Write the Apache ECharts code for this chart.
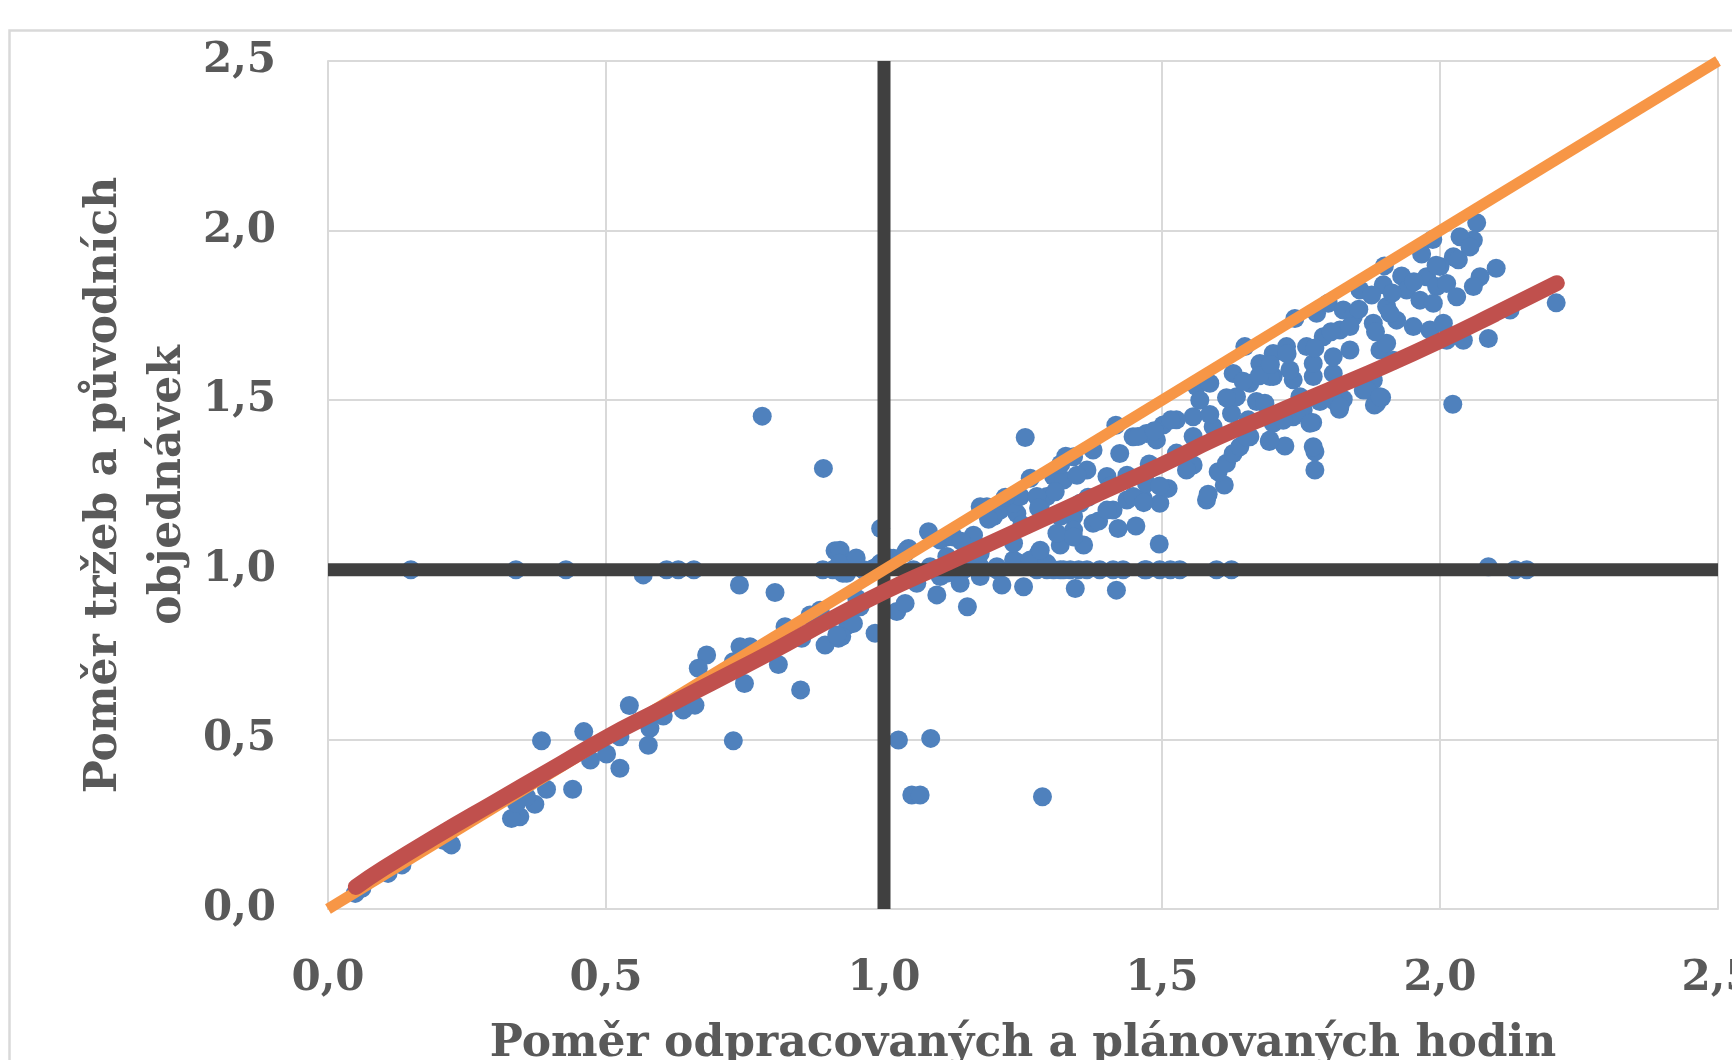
<!DOCTYPE html>
<html>
<head>
<meta charset="utf-8">
<script src="https://cdn.jsdelivr.net/npm/echarts@6/dist/echarts.min.js"></script>
<style>
html, body { margin: 0; padding: 0; background: #fff; }
#chart { width: 1732px; height: 1060px; }
</style>
</head>
<body>
<div id="chart"></div>
<script>
// axis ticks
var tickValues = [0, 0.5, 1, 1.5, 2, 2.5];
var tickLabels = ['0,0', '0,5', '1,0', '1,5', '2,0', '2,5'];

// reference lines
var hLine = [[0, 1], [2.5, 1]];
var vLine = [[1, 0], [1, 2.5]];
var diagLine = [[0, 0], [2.5, 2.5]];

// trend line
var trendX = [0.05, 0.1, 0.2, 0.3, 0.4, 0.5, 0.6, 0.7, 0.8, 0.9, 1.0, 1.1, 1.2, 1.3, 1.4, 1.5, 1.6, 1.7, 1.8, 1.9, 2.0, 2.1, 2.21];
var trendY = [0.065, 0.12, 0.22, 0.315, 0.41, 0.505, 0.59, 0.675, 0.76, 0.85, 0.935, 1.01, 1.085, 1.16, 1.235, 1.31, 1.39, 1.46, 1.53, 1.60, 1.675, 1.755, 1.845];

// scatter points
var points = [
    [0.149,1.0],[0.338,1.0],[0.428,1.0],[0.567,0.985],[0.609,1.0],[0.630,1.0],[0.658,1.0],
    [0.740,0.955],[0.804,0.933],[0.890,1.0],[0.908,1.0],[0.926,0.99],
    [0.822,0.832],[0.867,0.867],[0.885,0.881],[0.852,0.798],[0.894,0.778],[0.918,0.798],[0.935,0.837],
    [0.741,0.773],[0.759,0.773],[0.729,0.729],[0.681,0.749],[0.666,0.710],[0.801,0.783],[0.810,0.721],
    [0.749,0.665],[0.850,0.646],[0.687,0.670],[0.542,0.600],[0.639,0.587],[0.660,0.601],[0.603,0.569],
    [0.579,0.533],[0.576,0.483],[0.525,0.508],[0.729,0.496],[0.384,0.496],[0.460,0.523],[0.472,0.439],
    [0.501,0.457],[0.525,0.415],[0.440,0.353],[0.393,0.353],[0.372,0.309],[0.345,0.272],[0.330,0.267],
    [0.357,0.331],[0.339,0.311],[0.219,0.194],[0.207,0.203],[0.222,0.189],[0.133,0.130],[0.108,0.105],
    [0.049,0.046],[0.061,0.061],[0.781,1.453],[0.891,1.299],[0.912,1.056],
    [0.994,1.122],[1.026,0.498],[1.084,0.503],[1.050,0.336],[1.065,0.336],[1.285,0.331],[0.984,0.813],
    [1.023,0.877],[1.038,0.901],[0.945,0.842],[0.924,0.803],[1.095,0.926],[1.150,0.891],[1.212,0.955],
    [1.251,0.950],[1.344,0.945],[1.418,0.940],[1.495,1.076],[1.421,1.122],[1.453,1.129],[1.359,1.073],
    [1.317,1.073],[1.278,1.048],
    [1.305,1.0],[1.335,1.0],[1.365,1.0],[1.388,1.0],[1.412,1.0],[1.430,1.0],[1.469,1.0],[1.496,1.0],
    [1.532,1.0],[1.598,1.0],[1.625,1.0],[1.293,1.0],[1.317,1.0],[1.350,1.0],[1.472,1.0],[1.515,1.0],
    [0.921,1.058],[0.945,1.024],[0.993,1.019],[1.017,1.034],[1.044,1.063],[1.080,1.112],[1.113,1.097],
    [1.161,1.102],[1.185,1.186],[1.209,1.176],[1.239,1.166],[1.281,1.191],[1.341,1.157],[1.376,1.137],
    [1.412,1.176],[1.496,1.196],[1.580,1.206],
    [1.059,0.960],[1.101,0.980],[1.137,0.960],[1.173,0.980],[1.203,1.009],[1.245,1.019],[1.275,1.0],
    [1.149,1.029],[0.969,0.99],[0.933,0.99],[0.957,0.891],
    [2.023,1.488],[2.087,1.009],[2.135,1.0],[2.156,1.0],
    [1.583,1.223],[1.612,1.25],[1.775,1.294],[1.775,1.348],[1.721,1.365],[1.693,1.378],[1.771,1.434],
    [1.819,1.473],[1.826,1.503],[1.882,1.486],[1.895,1.508],[1.862,1.530],[1.880,1.559],
    [1.511,1.240],[1.466,1.210],[1.437,1.206],[1.386,1.144],[1.341,1.117],
    [1.556,1.309],[1.544,1.294],[1.601,1.289],[1.616,1.314],[1.628,1.343],[1.658,1.392],[1.640,1.363],
    [1.700,1.432],[1.736,1.451],[1.592,1.422],[1.556,1.451],[1.526,1.442],[1.502,1.427],
    [1.562,1.540],[1.586,1.55],[1.568,1.5],[1.625,1.461],[1.634,1.510],[1.658,1.55],[1.628,1.579],
    [1.670,1.496],[1.700,1.570],[1.736,1.56],[1.772,1.57],[1.808,1.579],[1.748,1.51],[1.784,1.496],
    [1.808,1.5],[1.754,1.471],
    [1.341,1.333],[1.376,1.353],[1.305,1.285],[1.293,1.216],[1.424,1.343],[1.448,1.392],[1.472,1.402],
    [1.490,1.383],[1.365,1.294],[1.401,1.275],[1.353,1.196],[1.317,1.157],[1.401,1.176],[1.448,1.216],
    [1.472,1.255],[1.254,1.390],[1.263,1.27],[1.327,1.335],
    [2.066,2.023],[1.987,1.974],[1.967,1.931],[1.900,1.896],[2.060,1.972],[2.036,1.982],[2.024,1.923],
    [2.054,1.952],[2.101,1.889],[2.072,1.864],[2.060,1.835],[2.209,1.787],[2.126,1.766],[2.087,1.682],
    [2.042,1.677],[2.012,1.677],
    [2.0,1.894],[1.976,1.864],[1.994,1.835],[2.012,1.844],[2.030,1.805],[1.931,1.866],[1.898,1.840],
    [1.940,1.825],[1.964,1.795],[1.988,1.786],
    [1.856,1.825],[1.877,1.810],[1.904,1.776],[1.922,1.736],[1.799,1.786],[1.778,1.756],[1.739,1.741],
    [1.826,1.766],[1.844,1.746],
    [1.649,1.658],[1.676,1.608],[1.700,1.638],[1.724,1.658],[1.760,1.658],[1.790,1.687],[1.820,1.707],
    [1.838,1.717],[1.880,1.727],[1.910,1.756],[1.952,1.717],[1.982,1.707],[2.006,1.727],
    [1.694,1.57],[1.730,1.589],[1.772,1.608],[1.808,1.628],[1.838,1.648],[1.892,1.648],[1.904,1.668],
    [1.868,1.530],[1.886,1.491],[1.892,1.51],[1.820,1.481],[1.766,1.432],[1.718,1.441],[1.694,1.383],
    [1.652,1.392],[1.772,1.363],[1.916,1.618],
    [0.915,1.0],[0.942,1.024],[0.963,1.0],[0.987,1.009],[1.011,1.029],[1.041,1.058],[1.101,1.088],
    [1.125,1.097],[1.173,1.186],[1.197,1.157],[1.233,1.196],[1.245,1.216],[1.275,1.216],[1.305,1.275],
    [1.323,1.265],[0.951,0.916],[0.915,0.808],
    [1.053,1.0],[1.083,1.009],[1.113,0.99],[1.143,1.0],[1.173,1.009],[1.203,1.0],[1.233,1.029],
    [1.263,1.029],[1.293,1.019],[1.323,1.0],[1.113,1.039],[1.173,1.048],[1.233,1.078],[1.281,1.058],
    [1.311,1.108],[1.341,1.097],
    [1.417,1.426],[1.457,1.393],[1.486,1.41],[1.516,1.442],[1.477,1.312],[1.437,1.279],[1.407,1.247],
    [1.367,1.214],[1.496,1.247],[1.467,1.198],[1.526,1.344],[1.556,1.393],[1.586,1.458],[1.616,1.507],
    [1.646,1.556],[1.675,1.572],[1.695,1.605],[1.725,1.637],[1.655,1.442],[1.685,1.491],
    [1.318,1.312],[1.347,1.279],[1.308,1.230],[1.278,1.182],[1.248,1.133],[1.218,1.214],[1.188,1.149],
    [1.139,1.084],[0.920,1.019],[0.950,1.035],[0.980,1.003],[1.010,1.035],[1.039,1.051],
    [1.854,1.768],[1.914,1.816],[1.953,1.849],[1.993,1.898],[2.033,1.914],[1.884,1.702],[1.804,1.702],
    [1.775,1.654]
];

var trendData = [];
for (var i = 0; i < trendX.length; i++) {
    trendData.push([trendX[i], trendY[i]]);
}

function tickLabel(v) {
    var idx = tickValues.indexOf(Math.round(v * 10) / 10);
    return idx >= 0 ? tickLabels[idx] : '';
}

var labelFont = {
    fontFamily: 'DejaVu Serif',
    fontWeight: 'bold',
    fontSize: 42,
    color: '#595959'
};
var titleFont = {
    fontFamily: 'DejaVu Serif',
    fontWeight: 'bold',
    fontSize: 44,
    color: '#595959'
};

var myChart = echarts.init(document.getElementById('chart'));

myChart.setOption({
    animation: false,
    backgroundColor: '#fff',
    graphic: [{
        type: 'rect',
        left: 7,
        top: 28,
        shape: { width: 1800, height: 1100 },
        style: { fill: 'none', stroke: '#d9d9d9', lineWidth: 2.5 },
        z: -1
    }],
    grid: {
        left: 328,
        right: 14,
        top: 61,
        bottom: 151,
        outerBoundsMode: 'none'
    },
    xAxis: {
        type: 'value',
        min: 0,
        max: 2.5,
        interval: 0.5,
        name: 'Poměr odpracovaných a plánovaných hodin',
        nameLocation: 'middle',
        nameGap: 114,
        nameMoveOverlap: false,
        nameTextStyle: titleFont,
        axisLine: { lineStyle: { color: '#d9d9d9', width: 2 } },
        axisTick: { show: false },
        axisLabel: Object.assign({ margin: 49, formatter: tickLabel }, labelFont),
        splitLine: { lineStyle: { color: '#d9d9d9', width: 2 } }
    },
    yAxis: {
        type: 'value',
        min: 0,
        max: 2.5,
        interval: 0.5,
        name: 'Poměr tržeb a původních\nobjednávek',
        nameLocation: 'middle',
        nameRotate: 90,
        nameGap: 127,
        nameMoveOverlap: false,
        nameTextStyle: Object.assign({ lineHeight: 64 }, titleFont),
        axisLine: { show: true, lineStyle: { color: '#d9d9d9', width: 2 } },
        axisTick: { show: false },
        axisLabel: Object.assign({ margin: 52, formatter: tickLabel }, labelFont),
        splitLine: { lineStyle: { color: '#d9d9d9', width: 2 } }
    },
    series: [{
        name: 'horizontal',
        type: 'line',
        data: hLine,
        symbol: 'none',
        silent: true,
        lineStyle: { color: '#404040', width: 13 }
    }, {
        name: 'vertical',
        type: 'line',
        data: vLine,
        symbol: 'none',
        silent: true,
        lineStyle: { color: '#404040', width: 13 }
    }, {
        name: 'diagonal',
        type: 'line',
        data: diagLine,
        symbol: 'none',
        silent: true,
        lineStyle: { color: '#F79646', width: 11 }
    }, {
        name: 'points',
        type: 'scatter',
        data: points,
        symbolSize: 19,
        itemStyle: { color: '#4F81BD', opacity: 1 }
    }, {
        name: 'trend',
        type: 'line',
        data: trendData,
        smooth: true,
        symbol: 'none',
        silent: true,
        lineStyle: { color: '#C0504D', width: 16, cap: 'round' }
    }]
});
</script>
</body>
</html>
